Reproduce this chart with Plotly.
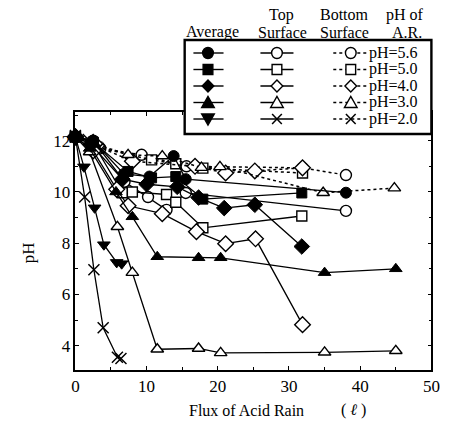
import plotly.graph_objects as go

W, H = 454, 430

# ---------------- data ----------------
ph_labels = ["pH=5.6", "pH=5.0", "pH=4.0", "pH=3.0", "pH=2.0"]

avg_56_x = [0, 2.5, 6.8, 10.4, 13.8, 15.5, 38.0]
avg_56_y = [12.15, 12.0, 10.7, 10.6, 11.4, 10.5, 9.97]
avg_50_x = [0, 2.5, 7.4, 10.7, 14.1, 17.9, 31.8]
avg_50_y = [12.15, 11.95, 10.8, 10.55, 10.6, 9.72, 9.96]
avg_40_x = [0, 2.2, 6.6, 10.0, 14.3, 17.3, 20.9, 25.2, 31.8]
avg_40_y = [12.15, 11.85, 10.5, 10.3, 10.2, 9.78, 9.37, 9.5, 7.87]
avg_30_x = [0, 2.0, 5.7, 8.0, 11.5, 17.3, 20.4, 35.0, 45.0]
avg_30_y = [12.15, 11.7, 10.0, 9.03, 7.47, 7.43, 7.43, 6.85, 7.0]
avg_20_x = [0, 1.2, 2.7, 4.0, 5.8, 6.5]
avg_20_y = [12.15, 10.98, 9.38, 7.94, 7.25, 7.2]

top_56_x = [0, 2.5, 6.9, 10.2, 12.8, 15.5, 38.0]
top_56_y = [12.15, 12.0, 10.4, 9.8, 9.3, 9.96, 9.26]
top_50_x = [0, 2.5, 6.6, 8.0, 12.8, 14.1, 17.9, 31.8]
top_50_y = [12.15, 11.9, 9.97, 10.0, 9.9, 9.6, 8.6, 9.06]
top_40_x = [0, 2.5, 5.8, 7.4, 12.2, 17.0, 21.1, 25.3, 31.9]
top_40_y = [12.15, 11.6, 10.1, 9.46, 9.15, 8.45, 7.98, 8.17, 4.82]
top_30_x = [0, 2.0, 5.9, 8.0, 11.5, 17.3, 20.4, 35.0, 45.0]
top_30_y = [12.15, 11.56, 8.64, 6.85, 3.86, 3.89, 3.72, 3.74, 3.8]
top_20_x = [0, 1.3, 2.6, 3.9, 5.9, 6.4]
top_20_y = [12.15, 9.8, 6.96, 4.7, 3.55, 3.5]

bot_56_x = [0, 3.5, 9.3, 15.6, 31.9, 38.0]
bot_56_y = [12.15, 11.7, 11.45, 11.0, 10.94, 10.66]
bot_50_x = [0, 3.0, 10.7, 14.1, 17.9, 31.9]
bot_50_y = [12.15, 11.75, 11.25, 11.1, 10.93, 10.74]
bot_40_x = [0, 3.0, 8.0, 16.8, 21.1, 25.2, 31.9]
bot_40_y = [12.15, 11.8, 11.2, 11.0, 10.74, 10.82, 10.94]
bot_30_x = [0, 2.5, 7.4, 12.2, 17.7, 20.3, 34.8, 44.8]
bot_30_y = [12.15, 11.9, 11.45, 11.4, 10.95, 10.98, 9.97, 10.15]
bot_20_x = [0, 1.8, 3.2]
bot_20_y = [12.2, 12.05, 11.7]

x_ticks = [0, 10, 20, 30, 40, 50]
y_ticks = [4, 6, 8, 10, 12]

FONT = "Liberation Serif"

fig = go.Figure()

symbols = ["circle", "square", "diamond", "triangle-up", "triangle-down"]
top_symbols = ["circle", "square", "diamond", "triangle-up", "x-thin"]

avg = [(avg_56_x, avg_56_y), (avg_50_x, avg_50_y), (avg_40_x, avg_40_y),
       (avg_30_x, avg_30_y), (avg_20_x, avg_20_y)]
top = [(top_56_x, top_56_y), (top_50_x, top_50_y), (top_40_x, top_40_y),
       (top_30_x, top_30_y), (top_20_x, top_20_y)]
bot = [(bot_56_x, bot_56_y), (bot_50_x, bot_50_y), (bot_40_x, bot_40_y),
       (bot_30_x, bot_30_y), (bot_20_x, bot_20_y)]

def msize(sym):
    return {"circle": 11, "square": 10, "diamond": 12, "triangle-up": 11,
            "triangle-down": 11, "x-thin": 11}[sym]

def open_marker(s):
    if s == "x-thin":
        return dict(symbol=s, size=msize(s), color="black",
                    line=dict(color="black", width=1.5))
    return dict(symbol=s, size=msize(s), color="white",
                line=dict(color="black", width=1.4))

# bottom surface (dotted)
for i, (xs, ys) in enumerate(bot):
    fig.add_trace(go.Scatter(x=xs, y=ys, mode="lines+markers",
                             line=dict(color="black", width=1.5, dash="3px,3px"),
                             marker=open_marker(top_symbols[i]), cliponaxis=False))
# top surface (solid, open)
for i, (xs, ys) in enumerate(top):
    fig.add_trace(go.Scatter(x=xs, y=ys, mode="lines+markers",
                             line=dict(color="black", width=1.3),
                             marker=open_marker(top_symbols[i]), cliponaxis=False))
# average (solid, filled)
for i, (xs, ys) in enumerate(avg):
    s = symbols[i]
    fig.add_trace(go.Scatter(x=xs, y=ys, mode="lines+markers",
                             line=dict(color="black", width=1.3),
                             marker=dict(symbol=s, size=msize(s), color="black",
                                         line=dict(color="black", width=1)),
                             cliponaxis=False))

# plot area in pixels
L, R, T, B = 73.5, 440, 112, 370

axis_common = dict(showline=True, linecolor="black", linewidth=1.6,
                   mirror="allticks", ticks="inside", ticklen=4,
                   tickcolor="black", tickwidth=1.2, showgrid=False,
                   zeroline=False,
                   tickfont=dict(family=FONT, size=17, color="black"))

fig.update_layout(
    width=W, height=H,
    margin=dict(l=0, r=0, t=0, b=0),
    paper_bgcolor="white", plot_bgcolor="white",
    showlegend=False,
    xaxis=dict(range=[0, 50], domain=[L / W, R / W], tickvals=x_ticks,
               minor=dict(dtick=5, tick0=0, ticks="inside", ticklen=3,
                          tickcolor="black", showgrid=False),
               **axis_common),
    yaxis=dict(range=[3.05, 13.12], domain=[1 - B / H, 1 - T / H], tickvals=y_ticks,
               minor=dict(dtick=1, tick0=0, ticks="inside", ticklen=3,
                          tickcolor="black", showgrid=False),
               **axis_common),
)

def PX(x):
    return x / W

def PY(y):
    return 1 - y / H

shapes = []
annots = []

# legend box
bx0, bx1, by0, by1 = 186, 440, 40, 134
shapes.append(dict(type="rect", xref="paper", yref="paper", layer="above",
                   x0=PX(bx0), x1=PX(bx1), y0=PY(by1), y1=PY(by0),
                   fillcolor="white", line=dict(color="black", width=2.4)))

rows = [53, 69.5, 86, 102.5, 119]
cols = [(195, 226, 210), (264, 298, 281), (339, 373, 357)]

def sym_shapes(kind, cx, cy, filled):
    fc = "black" if filled else "white"
    ln = dict(color="black", width=1.4)
    out = []
    if kind == "circle":
        out.append(dict(type="circle", x0=PX(cx - 5.5), x1=PX(cx + 5.5),
                        y0=PY(cy + 5.5), y1=PY(cy - 5.5), fillcolor=fc, line=ln))
    elif kind == "square":
        out.append(dict(type="rect", x0=PX(cx - 5), x1=PX(cx + 5),
                        y0=PY(cy + 5), y1=PY(cy - 5), fillcolor=fc, line=ln))
    else:
        if kind == "diamond":
            pts = [(cx, cy - 6), (cx + 6, cy), (cx, cy + 6), (cx - 6, cy)]
        elif kind == "triangle-up":
            pts = [(cx - 6.5, cy + 5), (cx + 6.5, cy + 5), (cx, cy - 6)]
        elif kind == "triangle-down":
            pts = [(cx - 6.5, cy - 5), (cx + 6.5, cy - 5), (cx, cy + 6)]
        else:  # x
            d = 5
            return [dict(type="line", x0=PX(cx - d), x1=PX(cx + d), y0=PY(cy - d),
                         y1=PY(cy + d), line=dict(color="black", width=1.5)),
                    dict(type="line", x0=PX(cx - d), x1=PX(cx + d), y0=PY(cy + d),
                         y1=PY(cy - d), line=dict(color="black", width=1.5))]
        path = "M " + " L ".join(f"{PX(px):.5f},{PY(py):.5f}" for px, py in pts) + " Z"
        out.append(dict(type="path", path=path, fillcolor=fc, line=ln))
    return out

for r, cy in enumerate(rows):
    for c, (x0, x1, cx) in enumerate(cols):
        shapes.append(dict(type="line", xref="paper", yref="paper", layer="above",
                           x0=PX(x0), x1=PX(x1), y0=PY(cy), y1=PY(cy),
                           line=dict(color="black", width=1.4,
                                     dash="solid" if c < 2 else "3px,3px")))
        kind = symbols[r] if c == 0 else top_symbols[r]
        if kind == "x-thin":
            kind = "x"
        for s in sym_shapes(kind, cx, cy, c == 0):
            s.update(xref="paper", yref="paper", layer="above")
            shapes.append(s)
    annots.append(dict(x=PX(375), y=PY(cy), xref="paper", yref="paper",
                       text=ph_labels[r], showarrow=False, xanchor="left",
                       yanchor="middle", borderpad=0,
                       font=dict(family=FONT, size=16, color="black")))

hdr_font = dict(family=FONT, size=16, color="black")
headers = [(215, 32, "Average"), (286, 15, "Top"), (287, 32, "Surface"),
           (351, 15, "Bottom"), (351, 32, "Surface"), (413, 15, "pH of"),
           (415, 32, "A.R.")]
for hx, hy, t in headers:
    annots.append(dict(x=PX(hx), y=PY(hy), xref="paper", yref="paper", text=t,
                       showarrow=False, xanchor="center", yanchor="middle",
                       borderpad=0, font=hdr_font))

# axis titles
annots.append(dict(x=PX(188), y=PY(410), xref="paper", yref="paper",
                   text="Flux of Acid Rain", showarrow=False, xanchor="left",
                   yanchor="middle", font=dict(family=FONT, size=16, color="black")))
annots.append(dict(x=PX(360), y=PY(410), xref="paper", yref="paper",
                   text="( <i>ℓ</i> )", showarrow=False, xanchor="center",
                   yanchor="middle", font=dict(family=FONT, size=16, color="black")))
annots.append(dict(x=PX(26), y=PY(253), xref="paper", yref="paper",
                   text="pH", showarrow=False, textangle=-90, xanchor="center",
                   yanchor="middle", font=dict(family=FONT, size=17, color="black")))

fig.update_layout(shapes=shapes, annotations=annots)

fig.write_html("out.html")
